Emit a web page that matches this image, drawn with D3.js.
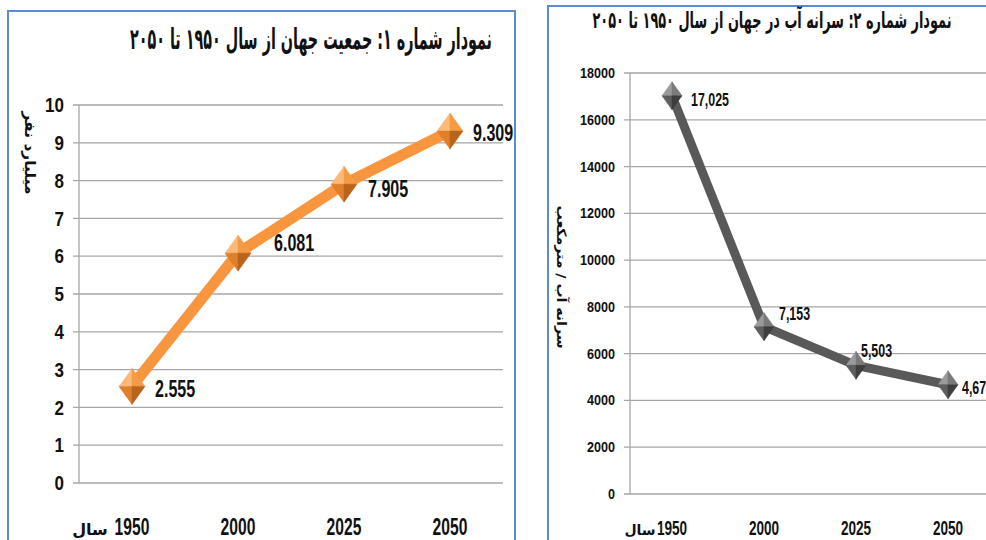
<!DOCTYPE html>
<html><head><meta charset="utf-8">
<script src="https://cdn.jsdelivr.net/npm/d3@7"></script>
<style>
html,body{margin:0;padding:0;background:#fff;overflow:hidden}
svg{display:block}
.num{font-family:'Liberation Sans',Arial,sans-serif;font-weight:bold;fill:#111}
.fa{font-family:'DejaVu Sans','Noto Sans',sans-serif;font-weight:bold;fill:#111}
</style></head>
<body>
<svg id="c" width="986" height="540"></svg>
<script>
// ---- data ----
const years = ["1950","2000","2025","2050"];
const population = [2.555, 6.081, 7.905, 9.309];
const populationLabels = ["2.555","6.081","7.905","9.309"];
const popTicks = [0,1,2,3,4,5,6,7,8,9,10];
const water = [17025, 7153, 5503, 4670];
const waterLabels = ["17,025","7,153","5,503","4,670"];
const waterTicks = [0,2000,4000,6000,8000,10000,12000,14000,16000,18000];
const title1 = "نمودار شماره ۱: جمعیت جهان از سال ۱۹۵۰ تا ۲۰۵۰";
const title2 = "نمودار شماره ۲: سرانه آب در جهان از سال ۱۹۵۰ تا ۲۰۵۰";
const yTitle1 = "میلیارد نفر";
const yTitle2 = "سرانه آب / مترمکعب";
const xTitle = "سال";

const svg = d3.select("#c");

function diamond(g, cx, cy, w, h, shades){
  const t=[cx,cy-h/2], r=[cx+w/2,cy], b=[cx,cy+h/2], l=[cx-w/2,cy], c=[cx,cy];
  const faces=[[l,t,c],[t,r,c],[l,b,c],[b,r,c]];
  faces.forEach((f,i)=>g.append("path").attr("d","M"+f.map(p=>p.join(",")).join("L")+"Z")
    .attr("fill",shades[i]).attr("stroke",shades[i]).attr("stroke-width",0.5));
}

// condensed numeric text
function ntext(g, x, y, str, fs, sx, anchor, dy){
  return g.append("text").attr("class","num")
    .attr("transform",`translate(${x},${y}) scale(${sx},1)`)
    .attr("text-anchor",anchor||"start").attr("dy",dy||0)
    .style("font-size",fs+"px").text(str);
}

function chart(opt){
  const g = svg.append("g");
  g.append("rect").attr("x",opt.frame[0]).attr("y",opt.frame[1]).attr("width",opt.frame[2]).attr("height",opt.frame[3])
    .attr("fill","#fff").attr("stroke","#5B8BD0").attr("stroke-width",2);
  const x = d3.scalePoint().domain(years).range(opt.xr).padding(0.5);
  const y = d3.scaleLinear().domain(opt.dom).range(opt.yr);
  g.append("g").selectAll("line").data(opt.ticks).join("line")
    .attr("x1",opt.axisX-6).attr("x2",opt.gridEnd).attr("y1",d=>y(d)).attr("y2",d=>y(d))
    .attr("stroke","#A6A6A6").attr("stroke-width",1.3);
  g.append("line").attr("x1",opt.axisX).attr("x2",opt.axisX).attr("y1",y(opt.dom[1])).attr("y2",y(0))
    .attr("stroke","#A6A6A6").attr("stroke-width",1.3);
  opt.ticks.forEach(d=>ntext(g, opt.axisX-15, y(d), d, opt.yfs, opt.ysx, "end", "0.36em"));
  years.forEach(d=>ntext(g, x(d), opt.xLabY, d, opt.xfs, opt.xsx, "middle"));
  g.append("text").attr("class","fa").attr("x",opt.salX).attr("y",opt.xLabY).attr("text-anchor","middle")
    .style("font-size",opt.salfs+"px").text(xTitle);
  g.append("text").attr("class","fa").attr("x",opt.titleX).attr("y",opt.titleY).attr("text-anchor","middle")
    .attr("direction","rtl").attr("textLength",opt.titleW).attr("lengthAdjust","spacingAndGlyphs")
    .style("font-size",opt.tfs+"px").text(opt.title);
  g.append("text").attr("class","fa").attr("transform",`translate(${opt.ytX},${opt.ytY}) rotate(90)`)
    .attr("text-anchor","middle").attr("direction","rtl")
    .attr("textLength",opt.ytW).attr("lengthAdjust","spacingAndGlyphs")
    .style("font-size",opt.ytfs+"px").text(opt.yTitle);
  const line = d3.line().x((d,i)=>x(years[i])).y(d=>y(d));
  g.append("path").datum(opt.values).attr("d",line).attr("fill","none")
    .attr("stroke",opt.lineColor).attr("stroke-width",opt.lw).attr("stroke-linejoin","round");
  opt.values.forEach((v,i)=>diamond(g,x(years[i]),y(v),opt.mw,opt.mh,opt.shades));
  opt.labels.forEach((d,i)=>ntext(g, x(years[i])+opt.lab[i][0], y(opt.values[i])+opt.lab[i][1], d, opt.lfs, opt.lsx, "start", "0.36em"));
}

chart({
  frame:[8,11,507,560], xr:[79,503], axisX:79, gridEnd:503, dom:[0,10], yr:[483,105], ticks:popTicks,
  yfs:20, ysx:0.85, xfs:23, xsx:0.68, xLabY:535, salX:90, salfs:16,
  title:title1, titleX:311, titleY:49, tfs:29, titleW:362,
  yTitle:yTitle1, ytX:25, ytY:153, ytfs:15, ytW:83,
  values:population, labels:populationLabels, lineColor:"#F7963F", lw:11, mw:26, mh:36,
  shades:["#FDB978","#F59A45","#E07F2A","#B9641C"], lfs:23, lsx:0.7,
  lab:[[23,2],[36,-10],[24,5],[23,2]]
});
chart({
  frame:[548,6,460,560], xr:[626,994], axisX:630, gridEnd:990, dom:[0,18000], yr:[494,73], ticks:waterTicks,
  yfs:14, ysx:0.9, xfs:20, xsx:0.68, xLabY:535, salX:640, salfs:14,
  title:title2, titleX:772, titleY:28, tfs:23, titleW:359,
  yTitle:yTitle2, ytX:557, ytY:277, ytfs:13, ytW:143,
  values:water, labels:waterLabels, lineColor:"#595959", lw:9, mw:20, mh:28,
  shades:["#9A9A9A","#7A7A7A","#5E5E5E","#3E3E3E"], lfs:18, lsx:0.69,
  lab:[[19,4],[15,-13],[5,-15],[14,3]]
});
</script>
</body></html>
